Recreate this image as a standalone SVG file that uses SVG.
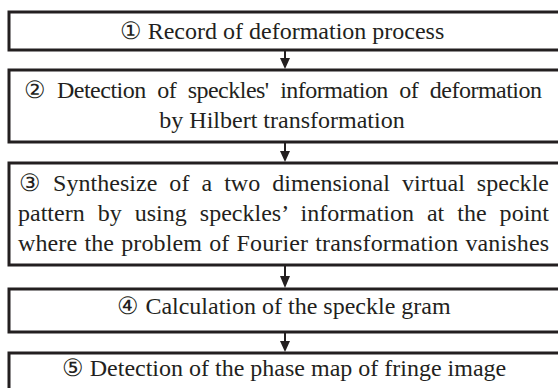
<svg xmlns="http://www.w3.org/2000/svg" width="558" height="388" viewBox="0 0 558 388">
<style>
.box{fill:#fff;stroke:#231f20;stroke-width:3}
.t{font-family:'Liberation Serif','Times New Roman',Tinos,'DejaVu Serif',serif;font-size:24px;fill:#231f20}
.c{text-anchor:middle}
.ln{stroke:#231f20;stroke-width:2}
.ah{fill:#231f20}
</style>
<g id="connectors">
<line class="ln" x1="285" y1="50" x2="285" y2="60"/><path class="ah" d="M280,58 L290,58 L285,69 Z"/>
<line class="ln" x1="285" y1="143" x2="285" y2="153"/><path class="ah" d="M280,151 L290,151 L285,162 Z"/>
<line class="ln" x1="285" y1="266" x2="285" y2="277"/><path class="ah" d="M280,276 L290,276 L285,288 Z"/>
<line class="ln" x1="285" y1="332" x2="285" y2="343"/><path class="ah" d="M280,341 L290,341 L285,352 Z"/>
</g>
<g id="n1"><rect class="box" x="9" y="12" width="560" height="38"/>
<text class="t c" x="282" y="39">① Record of deformation process</text></g>
<g id="n2"><rect class="box" x="9" y="70" width="560" height="72"/>
<text class="t" x="24" y="98" word-spacing="6" textLength="518" lengthAdjust="spacing">② Detection of speckles' information of deformation</text>
<text class="t c" x="282" y="128">by Hilbert transformation</text></g>
<g id="n3"><rect class="box" x="9" y="163" width="560" height="102"/>
<text class="t" x="19" y="191" word-spacing="6" textLength="530" lengthAdjust="spacing">③ Synthesize of a two dimensional virtual speckle</text>
<text class="t" x="18" y="221" word-spacing="7" textLength="531" lengthAdjust="spacing">pattern by using speckles’ information at the point</text>
<text class="t" x="18" y="251" word-spacing="1" textLength="531" lengthAdjust="spacing">where the problem of Fourier transformation vanishes</text></g>
<g id="n4"><rect class="box" x="9" y="289" width="560" height="43"/>
<text class="t c" x="284" y="314">④ Calculation of the speckle gram</text></g>
<g id="n5"><rect class="box" x="9" y="353" width="560" height="40"/>
<text class="t c" x="284" y="376">⑤ Detection of the phase map of fringe image</text></g>
</svg>
